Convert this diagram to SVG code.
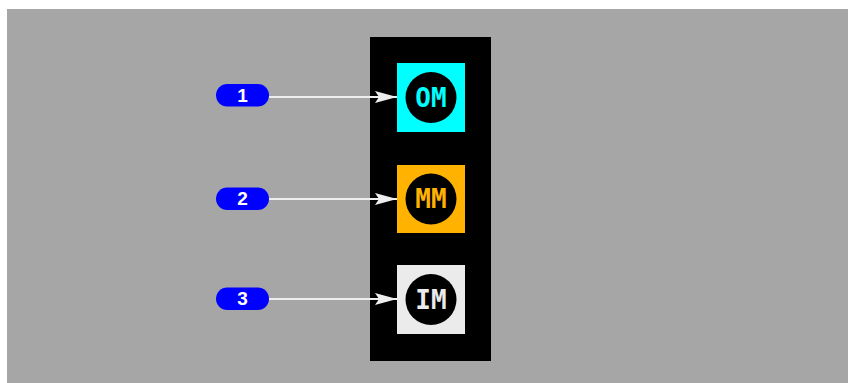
<svg xmlns="http://www.w3.org/2000/svg" width="848" height="383" viewBox="0 0 848 383">
<defs>
<style>
.pill{fill:#0000ff}
.pilltxt{fill:#ffffff;font-family:"Liberation Sans",Arial,sans-serif;font-weight:bold;font-size:19px;text-anchor:middle}
.conn{stroke:#eeeeee;stroke-width:2;fill:none}
.circ{fill:#000000}
.lbl{font-family:"DejaVu Sans Mono",monospace;font-weight:bold;font-size:26px;text-anchor:middle}
</style>
<marker id="arr" viewBox="0 0 22 12" refX="22" refY="6" markerWidth="22" markerHeight="12" markerUnits="userSpaceOnUse" orient="auto">
<path d="M0,0 L22,6 L0,12 L4,6 Z" fill="#eeeeee"/>
</marker>
</defs>
<rect x="7" y="9" width="841" height="374" fill="#a6a6a6"/>
<rect x="370" y="37" width="121" height="324" fill="#000000"/>
<g id="connectors">
<line class="conn" x1="269" y1="97" x2="397" y2="97" marker-end="url(#arr)"/>
<line class="conn" x1="269" y1="199" x2="397" y2="199" marker-end="url(#arr)"/>
<line class="conn" x1="269" y1="299" x2="397" y2="299" marker-end="url(#arr)"/>
</g>
<g id="p1"><rect class="pill" x="216" y="84" width="53" height="22.5" rx="11.25"/><text class="pilltxt" x="242.5" y="101.8">1</text></g>
<g id="p2"><rect class="pill" x="216" y="187.5" width="53" height="22.5" rx="11.25"/><text class="pilltxt" x="242.5" y="205.3">2</text></g>
<g id="p3"><rect class="pill" x="216" y="287.5" width="53" height="22.5" rx="11.25"/><text class="pilltxt" x="242.5" y="305.3">3</text></g>
<g id="OM"><rect x="397" y="63" width="68" height="69" fill="#00ffff"/><circle class="circ" cx="431" cy="97.5" r="25.5"/><text class="lbl" x="431" y="106.5" fill="#00ffff">OM</text></g>
<g id="MM"><rect x="397" y="165" width="68" height="68" fill="#ffb300"/><circle class="circ" cx="431" cy="199" r="25.5"/><text class="lbl" x="431" y="208" fill="#ffb300">MM</text></g>
<g id="IM"><rect x="397" y="265" width="68" height="69" fill="#ebebeb"/><circle class="circ" cx="431" cy="299.5" r="25.5"/><text class="lbl" x="431" y="308.5" fill="#ebebeb">IM</text></g>
</svg>
